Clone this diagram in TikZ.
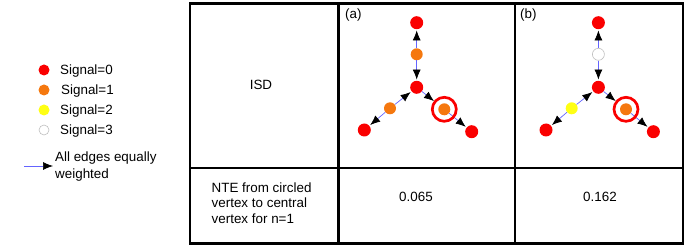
\documentclass[tikz,border=0pt]{standalone}
\usepackage{fontspec}
\setmainfont{Liberation Sans}
\usetikzlibrary{arrows.meta}
\definecolor{sigred}{RGB}{250,0,0}
\definecolor{sigorange}{RGB}{245,120,15}
\definecolor{sigyellow}{RGB}{255,255,20}
\definecolor{edgeblue}{RGB}{100,100,255}
\begin{document}
\begin{tikzpicture}[x=1pt,y=-1pt,
  txt/.style={font=\fontsize{13.4pt}{15.5pt}\selectfont, inner sep=0pt},
  vtx/.style={circle, inner sep=0pt, minimum size=12pt},
  s0/.style={vtx, fill=sigred, minimum size=13pt},
  s1/.style={vtx, fill=sigorange},
  s2/.style={vtx, fill=sigyellow},
  s3/.style={vtx, fill=white, draw=black!25, line width=0.6pt},
  edge/.style={draw=edgeblue, line width=0.7pt, shorten >=1pt, -{Latex[length=10pt,width=8pt,color=black]}},
  ring/.style={circle, draw=sigred, line width=2.7pt, minimum size=24pt, inner sep=0pt},
  grid/.style={line width=2.5pt, draw=black}
]
\useasboundingbox (0,0) rectangle (685,248);

% table
\draw[grid] (190,3.5) rectangle (683,243.5);
\draw[grid] (338.5,3.5) -- (338.5,243.5);
\draw[grid] (515,3.5) -- (515,243.5);
\draw[grid] (190,168) -- (683,168);

% legend
\node[s0, minimum size=11pt] (L0) at (44,70) {};
\node[s1, minimum size=11pt] (L1) at (44,90) {};
\node[s2, minimum size=11pt] (L2) at (44,110) {};
\node[s3, minimum size=10pt] (L3) at (44,130) {};
\node[txt, anchor=base west] (T0) at (60,74.7) {Signal=0};
\node[txt, anchor=base west] (T1) at (61,94.7) {Signal=1};
\node[txt, anchor=base west] (T2) at (60,114.7) {Signal=2};
\node[txt, anchor=base west] (T3) at (60,134.7) {Signal=3};
\coordinate (la) at (24,166);
\coordinate (lb) at (53,166);
\draw[edge, shorten >=0pt] (la) -- (lb);
\node[txt, anchor=west, align=left, font=\fontsize{13.4pt}{16.3pt}\selectfont] (TE) at (55,166.5) {All edges equally\\weighted};

% table texts
\node[txt, anchor=base] (ISD) at (261,89.7) {ISD};
\node[txt, anchor=west, align=left] (NTE) at (211.5,202.75) {NTE from circled\\vertex to central\\vertex for n=1};
\node[txt, anchor=base] (VA) at (416,201.7) {0.065};
\node[txt, anchor=base] (VB) at (600,201.7) {0.162};
\node[txt, anchor=base west] (LA) at (345,18.9) {(a)};
\node[txt, anchor=base west] (LB) at (520,18.9) {(b)};

% graph (a)
\node[s0] (A0) at (416.7,22.7) {};
\node[s1] (A1) at (416.7,54.3) {};
\node[s0] (Ac) at (416.7,87.3) {};
\node[s1] (Al) at (390,108.3) {};
\node[s0] (Abl) at (364.3,130) {};
\node[s1] (Ar) at (444.3,109.3) {};
\node[s0] (Abr) at (471.7,131.7) {};
\draw[edge] (A1) -- (A0);
\draw[edge] (A1) -- (Ac);
\draw[edge] (Al) -- (Ac);
\draw[edge] (Al) -- (Abl);
\draw[edge, shorten >=7pt] (Ac) -- (Ar);
\draw[edge] (Ar) -- (Abr);
\node[ring] (RA) at (Ar) {};

% graph (b)
\node[s0] (B0) at (598.4,22.7) {};
\node[s3] (B1) at (598.4,54.3) {};
\node[s0] (Bc) at (598.4,87.3) {};
\node[s2] (Bl) at (571.7,108.3) {};
\node[s0] (Bbl) at (546,130) {};
\node[s1] (Br) at (626,109.3) {};
\node[s0] (Bbr) at (653.4,131.7) {};
\draw[edge] (B1) -- (B0);
\draw[edge] (B1) -- (Bc);
\draw[edge] (Bl) -- (Bc);
\draw[edge] (Bl) -- (Bbl);
\draw[edge, shorten >=7pt] (Bc) -- (Br);
\draw[edge] (Br) -- (Bbr);
\node[ring] (RB) at (Br) {};
\end{tikzpicture}
\end{document}
